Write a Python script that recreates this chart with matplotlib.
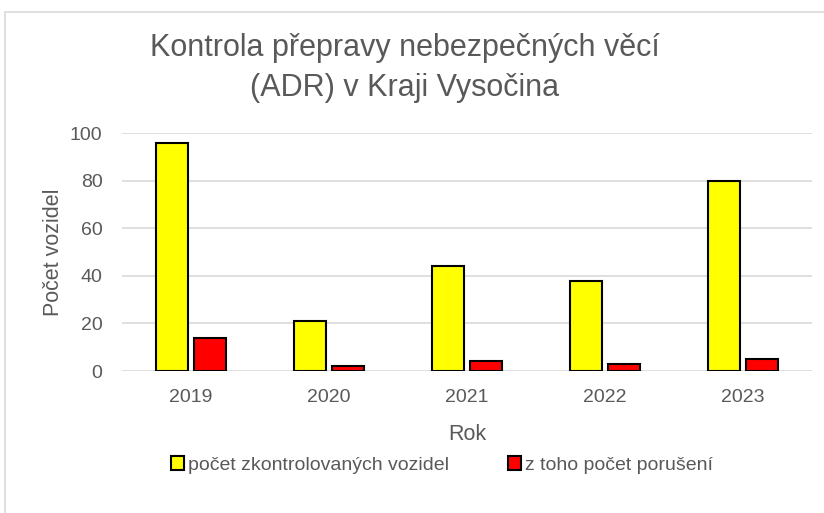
import matplotlib.pyplot as plt
import numpy as np
from matplotlib.patches import Rectangle

plt.rcParams['font.family'] = ['Liberation Sans', 'DejaVu Sans']

roky = ['2019', '2020', '2021', '2022', '2023']
zkontrolovano = [96, 21, 44, 38, 80]
poruseni = [14, 2, 4, 3, 5]

sedy = '#595959'

fig = plt.figure(figsize=(8.24, 5.13), dpi=100)
# ramecek grafu (jen levy a horni okraj je videt)
fig.patches.append(Rectangle((5/824, -0.1), 1.2, 1.1 - 12/513, transform=fig.transFigure,
                             fill=False, edgecolor='#d9d9d9', linewidth=1.2))

ax = fig.add_axes([122/824, 1 - 371/513, 690/824, 238/513])
x = np.arange(len(roky))
w = 0.23
ax.bar(x - 0.14, zkontrolovano, w, color='#ffff00', edgecolor='black', linewidth=1.5,
       label='počet zkontrolovaných vozidel', zorder=3)
ax.bar(x + 0.14, poruseni, w, color='#ff0000', edgecolor='black', linewidth=1.5,
       label='z toho počet porušení', zorder=3)

ax.set_xlim(-0.5, 4.5)
ax.set_ylim(0, 100)
ax.set_yticks(range(0, 101, 20))
ax.set_xticks(x)
ax.set_xticklabels(roky)
ax.grid(axis='y', color='#d9d9d9', linewidth=1.2, zorder=0)
for s in ax.spines.values():
    s.set_visible(False)
ax.tick_params(length=0, labelsize=14, colors=sedy)
ax.tick_params(axis='x', pad=13)
ax.tick_params(axis='y', pad=14)

ax.set_xlabel('Rok', fontsize=15.5, color=sedy, labelpad=13)
ax.set_ylabel('Počet vozidel', fontsize=15.5, color=sedy, labelpad=4)

fig.text(405/824, 1 - 68/513, 'Kontrola přepravy nebezpečných věcí\n(ADR) v Kraji Vysočina',
         ha='center', va='center', fontsize=22, color=sedy, linespacing=1.4)

leg = fig.legend(loc='center', bbox_to_anchor=(442/824, 1 - 465/513), ncol=2, frameon=False,
                 fontsize=14, handlelength=0.7, handleheight=0.7, handletextpad=0.2,
                 columnspacing=3.0, labelcolor=sedy)

fig.savefig('out.png', dpi=100)
